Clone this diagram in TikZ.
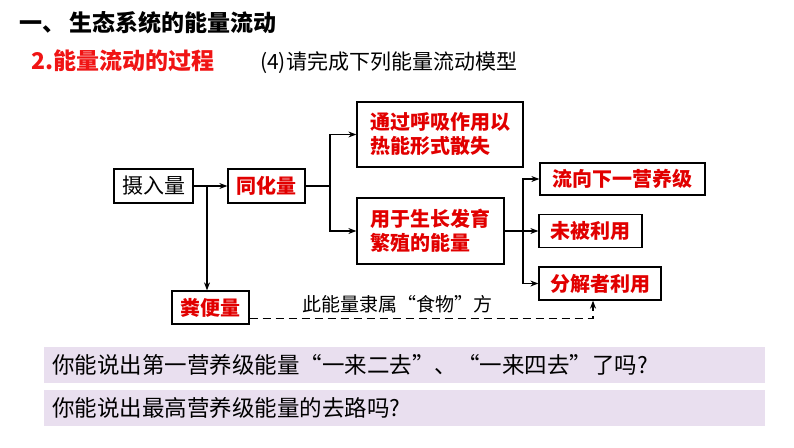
\documentclass[tikz,border=0pt]{standalone}
\usepackage{fontspec}
\setmainfont{Noto Sans CJK SC}
\usetikzlibrary{arrows.meta}
\definecolor{boxred}{RGB}{225,0,0}
\definecolor{titlered}{RGB}{240,20,20}
\definecolor{barfill}{RGB}{233,223,239}
\begin{document}
\begin{tikzpicture}[x=1pt,y=-1pt,
  box/.style={draw,line width=1.3pt,inner sep=0pt,align=left},
  redtxt/.style={text=boxred,font=\fontsize{20}{24}\selectfont\bfseries},
  bar/.style={fill=barfill,anchor=north west,minimum width=721pt,minimum height=36pt,
    inner xsep=8pt,inner ysep=0pt,text width=705pt,align=left,font=\fontsize{22.5}{26}\selectfont},
  line/.style={line width=1.1pt},
  link/.style={line width=1.1pt,-{Stealth[length=8pt,width=6pt]}}]
\useasboundingbox (0,0) rectangle (794,447);
% headings
\node[anchor=west,inner sep=0pt,font=\fontsize{23}{28}\selectfont\bfseries] (title) at (19,23) {一、\hspace{4pt}生态系统的能量流动};
\node[anchor=west,inner sep=0pt,text=titlered,font=\fontsize{23}{28}\selectfont\bfseries] (sub) at (31,61) {2.能量流动的过程};
\node[anchor=west,inner sep=0pt,font=\fontsize{21}{25}\selectfont] (task) at (260,63) {(4)请完成下列能量流动模型};
% boxes
\node[box,minimum width=79pt,minimum height=34pt,font=\fontsize{21}{25}\selectfont] (take) at (153.5,186) {摄入量};
\node[box,redtxt,minimum width=77pt,minimum height=34pt] (assim) at (266.5,186) {同化量};
\node[box,redtxt,minimum width=166pt,minimum height=65pt] (resp) at (440,134.5) {通过呼吸作用以\\热能形式散失};
\node[box,redtxt,minimum width=147pt,minimum height=66pt] (grow) at (430.5,231) {用于生长发育\\繁殖的能量};
\node[box,redtxt,minimum width=165pt,minimum height=32pt] (next) at (622.5,179) {流向下一营养级};
\node[box,redtxt,minimum width=103pt,minimum height=33pt] (unused) at (590.5,231) {未被利用};
\node[box,redtxt,minimum width=122pt,minimum height=33pt] (decomp) at (600,283.5) {分解者利用};
\node[box,redtxt,minimum width=77pt,minimum height=33pt] (feces) at (210.5,307.5) {粪便量};
\node[font=\fontsize{19}{23}\selectfont] (note) at (397,304) {此能量隶属“食物”方};
% forks
\coordinate (fork1) at (207,186);
\coordinate (fork2) at (330,186);
\coordinate (fork3) at (523,231);
% connectors
\path[draw,link] (take) -- (assim);
\path[draw,link] (fork1) -- (fork1 |- feces.north);
\path[draw,line] (assim) -- (fork2);
\path[draw,link] (fork2) |- (resp);
\path[draw,link] (fork2) |- (grow);
\path[draw,line] (grow) -- (fork3);
\path[draw,link] (fork3) |- (next);
\path[draw,link] (fork3) |- (unused);
\path[draw,link] (fork3) |- (decomp);
\path[draw,link,dash pattern=on 8pt off 5pt] ([yshift=-11pt]feces.east) -| ([xshift=-7pt]decomp.south);
% questions
\node[bar] (q1) at (44,347) {你能说出第一营养级能量“一来二去”、“一来四去”了吗?};
\node[bar] (q2) at (44,390) {你能说出最高营养级能量的去路吗?};
\end{tikzpicture}
\end{document}
